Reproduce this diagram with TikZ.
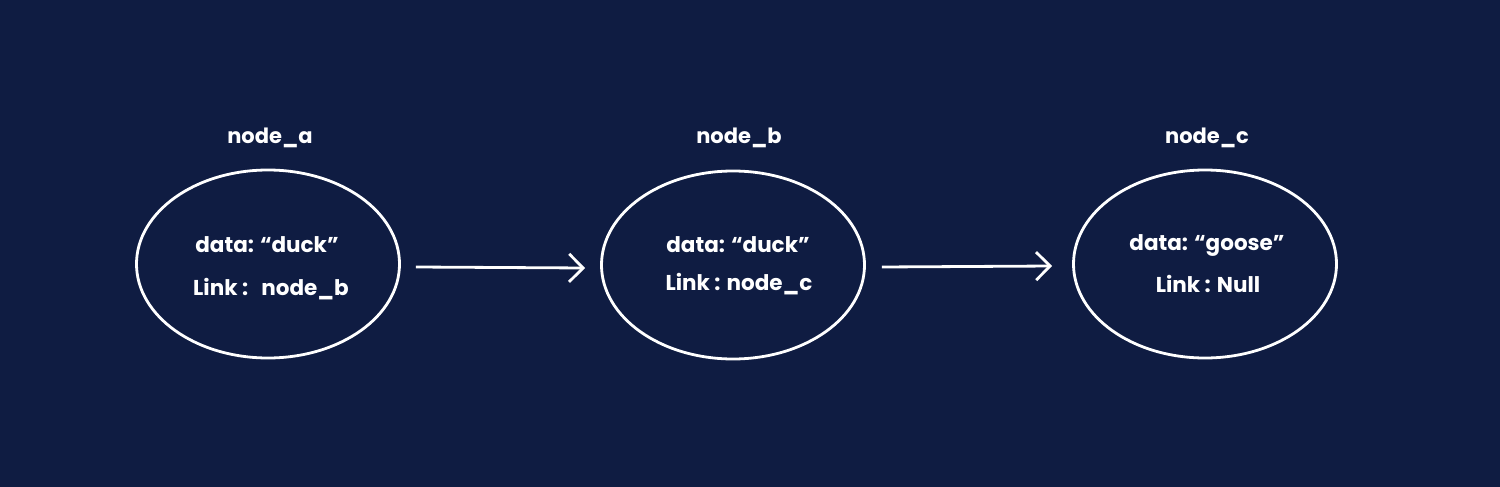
\documentclass[tikz,border=0pt]{standalone}
\usepackage{fontspec}
\setmainfont{Poppins}
\usetikzlibrary{shapes.geometric,arrows.meta}
\definecolor{bgnavy}{HTML}{0F1C42}
\begin{document}
\begin{tikzpicture}[x=1pt,y=-1pt,
  listnode/.style={draw=white,line width=2.8pt,ellipse,inner sep=0pt,minimum width=263pt,minimum height=188pt},
  title/.style={text=white,font=\fontsize{21}{25}\selectfont\bfseries,inner sep=0pt},
  body/.style={text=white,font=\fontsize{21.5}{25}\selectfont\bfseries,inner sep=0pt},
  link/.style={draw=white,line width=2.8pt,-{Straight Barb[length=14pt,width=28pt,line width=2.8pt]}}]
\fill[bgnavy] (0,0) rectangle (1500,487);
\useasboundingbox (0,0) rectangle (1500,487);
\node[listnode] (a) at (268,264) {};
\node[listnode] (b) at (733,265) {};
\node[listnode] (c) at (1205,264) {};
\node[title] (ta) at (270,138) {node\_a};
\node[title] (tb) at (739,138) {node\_b};
\node[title] (tc) at (1207,138) {node\_c};
\node[body] (da) at (267,245) {data: “duck”};
\node[body] (la) at (271,289) {Link :\,\, node\_b};
\node[body] (db) at (738,245) {data: “duck”};
\node[body] (lb) at (739,284) {Link : node\_c};
\node[body] (dc) at (1207,245) {data: “goose”};
\node[body] (lc) at (1208,284) {Link : Null};
\draw[link] ([xshift=15pt,yshift=-3pt]a.east) -- ([xshift=-15pt,yshift=-3pt]b.west);
\draw[link] ([xshift=16pt,yshift=-2pt]b.east) -- ([xshift=-20pt,yshift=-2pt]c.west);
\end{tikzpicture}
\end{document}
